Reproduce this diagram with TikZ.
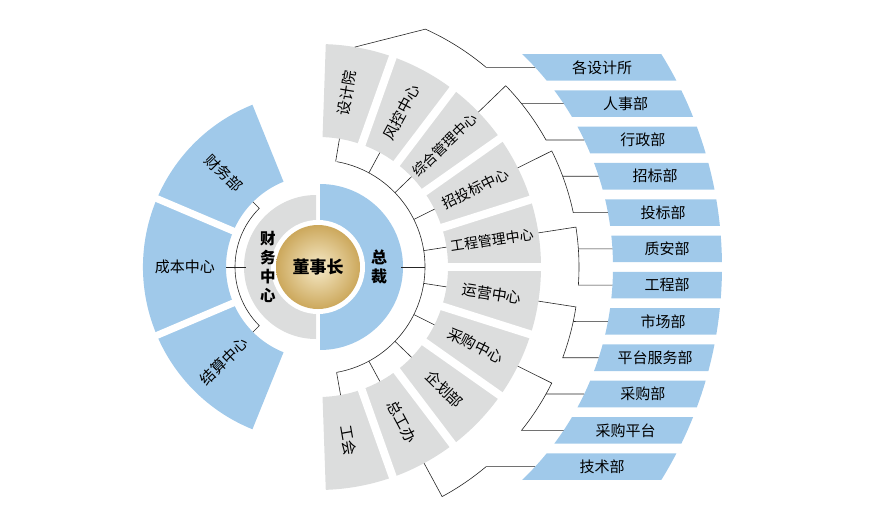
\documentclass[tikz,border=0pt]{standalone}
\usepackage{fontspec}
\setmainfont{Noto Sans CJK SC}
\definecolor{secblue}{RGB}{160,201,234}
\definecolor{secgray}{RGB}{220,221,221}
\definecolor{goldin}{RGB}{246,234,200}
\definecolor{goldout}{RGB}{204,168,92}

\begin{document}
\begin{tikzpicture}
[x=1pt, y=1pt,
 lbl/.style={font=\fontsize{15}{15}\selectfont, inner sep=0pt},
 head/.style={font=\fontsize{16}{19}\selectfont\bfseries, inner sep=0pt, align=center},
 link/.style={draw=black!85, line width=0.6pt},
 gap/.style={draw=white, line width=8pt}]
\useasboundingbox (-318,-256) rectangle (554,267);

% left ring of sectors
\fill[secblue] (112:92) -- (112:175) arc[start angle=112, end angle=248, radius=175]
  -- (248:92) arc[start angle=248, end angle=112, radius=92] -- cycle;
\draw[gap, line width=7pt] (157:88) -- (157:180);
\draw[gap, line width=7pt] (203:88) -- (203:180);

% right ring of sectors
\fill[secgray] (88:130) -- (88:223) arc[start angle=88, end angle=-88, radius=223]
  -- (-88:130) arc[start angle=-88, end angle=88, radius=130] -- cycle;
\foreach \k in {1,...,9}
  \draw[gap] ({88-17.6*\k}:124) -- ({88-17.6*\k}:229);

% centre
\fill[secgray] (-2,72) arc[start angle=90, end angle=270, radius=72] -- cycle;
\fill[secblue] (2,-83) arc[start angle=-90, end angle=90, radius=83] -- cycle;
\fill[white] (0,0) circle (47);
\shade[inner color=goldin, outer color=goldout] (0,0) circle (42);
\node[head, font=\fontsize{17}{17}\selectfont\bfseries] (chair) at (0,0) {董事长};
\node[head, font=\fontsize{16}{18.4}\selectfont\bfseries] (ceo) at (61,0) {总\\裁};
\node[head, font=\fontsize{15.5}{19}\selectfont\bfseries] (fin) at (-50,0) {财\\务\\中\\心};

% left labels
\node[lbl, rotate=-45] (l1) at (135:133) {财务部};
\node[lbl] (l2) at (180:133) {成本中心};
\node[lbl, rotate=45] (l3) at (225:133) {结算中心};
\coordinate (l1-in) at (135:92);
\coordinate (l3-in) at (225:92);
\coordinate (fin-w) at (180:72);
\draw[link] (l1-in) -- (135:83) arc[start angle=135, end angle=225, radius=83] -- (l3-in);
\draw[link] (fin-w) -- (180:92);

% right labels and ticks
\coordinate (ceo-e) at (83,0);
\draw[link] (ceo-e) -- (107,0);
\draw[link] (80:107) arc[start angle=80, end angle=-80, radius=107];
\foreach \t/\a/\s [count=\i] in {设计院/80.5/15, 风控中心/61.6/15, 综合管理中心/44/14,
    招投标中心/26.4/14.5, 工程管理中心/8.8/14, 运营中心/-8.8/15, 采购中心/-26.4/15,
    企划部/-44/15, 总工办/-61.6/15, 工会/-80/15}{
  \node[lbl, rotate=\a, font=\fontsize{\s}{\s}\selectfont] (g\i) at (\a:176) {\t};
  \coordinate (g\i-in) at (\a:130);
  \coordinate (g\i-out) at (\a:223);
  \draw[link] (\a:107) -- (g\i-in);
}

% departments
\foreach \t [count=\i] in {各设计所, 人事部, 行政部, 招标部, 投标部, 质安部,
    工程部, 市场部, 平台服务部, 采购部, 采购平台, 技术部}{
  \pgfmathsetmacro\yc{36.3*(6.5-\i)}
  \pgfmathsetmacro\yt{\yc+13.3}
  \pgfmathsetmacro\yb{\yc-13.3}
  \pgfmathsetmacro\xc{50*(sqrt(2.95^2-(\yc/100)^2)+sqrt(4.04^2-(\yc/100)^2))}
  \fill[secblue] ({asin(\yb/295)}:295) -- ({asin(\yb/404)}:404)
    arc[start angle={asin(\yb/404)}, end angle={asin(\yt/404)}, radius=404]
    -- ({asin(\yt/295)}:295)
    arc[start angle={asin(\yt/295)}, end angle={asin(\yb/295)}, radius=295] -- cycle;
  \node[lbl] (b\i) at (\xc,\yc) {\t};
  \coordinate (b\i-w) at ({asin(\yc/295)}:295);
}

% brackets
\draw[link] (g1-out) -- (65.7:261)
  arc[start angle=65.7, end angle={asin(199.65/261)}, radius=261] -- (b1-w);
\foreach \m/\g/\p/\q in {44/3/2/3, 26.4/4/4/5, 8.8/5/6/7, -8.8/6/8/9, -26.4/7/10/11}{
  \pgfmathsetmacro\ap{asin(36.3*(6.5-\p)/261)}
  \pgfmathsetmacro\aq{asin(36.3*(6.5-\q)/261)}
  \draw[link] (g\g-out) -- (\m:261) arc[start angle=\m, end angle=\aq, radius=261] -- (b\q-w);
  \draw[link] (\ap:261) -- (b\p-w);
}
\draw[link] (g9-out) -- (-61.6:261)
  arc[start angle=-61.6, end angle={asin(-199.65/261)}, radius=261] -- (b12-w);
\end{tikzpicture}
\end{document}
